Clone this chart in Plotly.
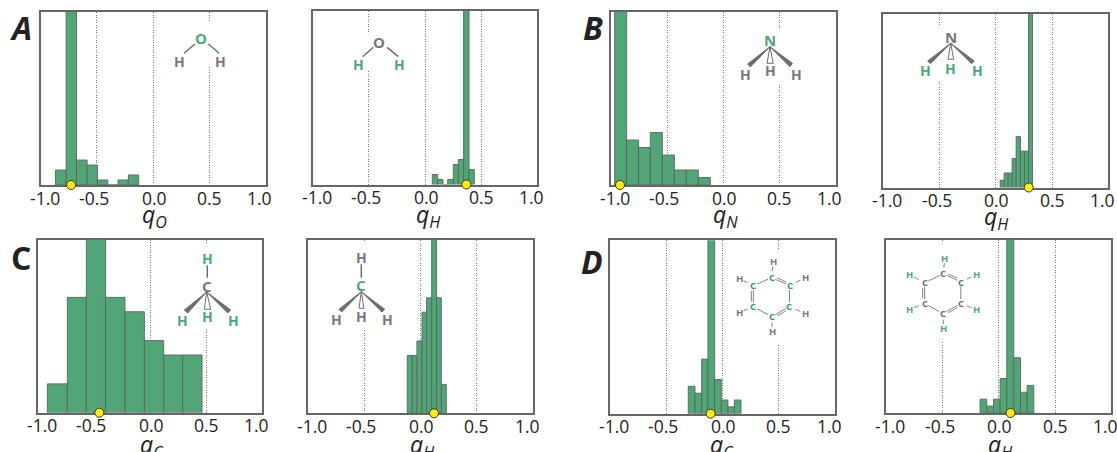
import plotly.graph_objects as go

W, H = 1117, 452
GREEN = "#4aa875"
BAR = "#4aa271"
GRAY = "#77787b"
FONT = "Open Sans"

tick_vals = [-1.0, -0.5, 0.0, 0.5, 1.0]
tick_text = ["-1.0", "-0.5", "0.0", "0.5", "1.0"]
tick_nudge = [4, -3, 1, 0, -6]

# Histogram bin edges and counts
a1_edges = [-0.867, -0.772, -0.680, -0.586, -0.494, -0.402, -0.311, -0.219, -0.127]
a1_counts = [3, 40, 5, 4, 1, 0, 1, 2]
a2_edges = [0.065, 0.113, 0.160, 0.202, 0.252, 0.297, 0.344, 0.392, 0.439]
a2_counts = [2, 1, 0, 1, 4, 5, 40, 3]
b1_edges = [-0.967, -0.861, -0.754, -0.650, -0.543, -0.436, -0.329, -0.223, -0.116]
b1_counts = [30, 6, 5, 7, 4, 2, 2, 1]
b2_edges = [0.039, 0.074, 0.110, 0.145, 0.181, 0.219, 0.255, 0.291, 0.326]
b2_counts = [1, 2, 2, 4, 7, 5, 5, 30]
c1_edges = [-0.914, -0.736, -0.567, -0.395, -0.223, -0.050, 0.122, 0.291, 0.463]
c1_counts = [2, 8, 20, 8, 7, 5, 4, 4]
c2_edges = [-0.119, -0.074, -0.033, 0.012, 0.053, 0.098, 0.142, 0.184, 0.228]
c2_counts = [4, 4, 5, 7, 8, 20, 8, 2]
d1_edges = [-0.306, -0.246, -0.187, -0.131, -0.071, -0.012, 0.047, 0.104, 0.163]
d1_counts = [4, 3, 8, 40, 5, 2, 1, 2]
d2_edges = [-0.166, -0.107, -0.047, 0.012, 0.071, 0.133, 0.193, 0.252, 0.311]
d2_counts = [2, 1, 2, 5, 40, 8, 3, 4]

# Yellow reference points on each axis
a1_ref = -0.728
a2_ref = 0.368
b1_ref = -0.92
b2_ref = 0.293
c1_ref = -0.451
c2_ref = 0.119
d1_ref = -0.107
d2_ref = 0.104

# Panel frames in page pixels: left, right, top, bottom; y-range top; axis label and its spot
panels = [
    (40.5, 265.5, 12, 185, 34.7, "O", a1_edges, a1_counts, a1_ref, 154, 215),
    (312.7, 537.3, 11, 184.5, 34.7, "H", a2_edges, a2_counts, a2_ref, 428, 215),
    (611, 835.7, 12, 185, 23.1, "N", b1_edges, b1_counts, b1_ref, 725, 215),
    (883.3, 1108.3, 14, 187.5, 23.9, "H", b2_edges, b2_counts, b2_ref, 996, 217),
    (37.7, 262.3, 239.7, 412.7, 12, "C", c1_edges, c1_counts, c1_ref, 152, 445),
    (308.3, 533, 240, 413.3, 12, "H", c2_edges, c2_counts, c2_ref, 422, 445),
    (610.3, 835, 240.3, 413.7, 25.4, "C", d1_edges, d1_counts, d1_ref, 722, 445),
    (886.3, 1111.3, 239.7, 413, 25.1, "H", d2_edges, d2_counts, d2_ref, 1000, 445),
]

fig = go.Figure()
layout = {}
annotations = []
for i, (l, r, t, b, ymax, sub, edges, counts, ref, tx, ty) in enumerate(panels, start=1):
    s = "" if i == 1 else str(i)
    fig.add_trace(go.Bar(
        x=edges[:-1], y=counts, offset=0,
        width=[e2 - e1 for e1, e2 in zip(edges[:-1], edges[1:])],
        marker=dict(color=BAR, opacity=0.96, line=dict(color="#5a6b61", width=1)),
        xaxis=f"x{s}", yaxis=f"y{s}", showlegend=False,
    ))
    fig.add_trace(go.Scatter(
        x=[ref], y=[0], mode="markers", cliponaxis=False,
        marker=dict(color="#ffeb14", size=9, line=dict(color="#3a3a20", width=1)),
        xaxis=f"x{s}", yaxis=f"y{s}", showlegend=False,
    ))
    layout[f"xaxis{s}"] = dict(
        domain=[l / W, r / W], range=[-1, 1], anchor=f"y{s}", automargin=False,
        tickmode="array", tickvals=tick_vals, showticklabels=False, ticks="",
        showgrid=True, griddash="1px,1.5px", gridcolor="#777777", gridwidth=1,
        zeroline=False, showline=True, mirror=True, linecolor="#666666", linewidth=1.5,
        layer="below traces",
    )
    layout[f"yaxis{s}"] = dict(
        domain=[1 - b / H, 1 - t / H], range=[0, ymax], anchor=f"x{s}", automargin=False,
        showticklabels=False, ticks="", showgrid=False, zeroline=False,
        showline=True, mirror=True, linecolor="#666666", linewidth=1.5,
    )
    for v, label, nudge in zip(tick_vals, tick_text, tick_nudge):
        annotations.append(dict(
            text=label, xref=f"x{s}", yref="paper", x=v, y=1 - (b + 12.5) / H,
            xshift=nudge, showarrow=False, xanchor="center", yanchor="middle",
            font=dict(family=FONT, size=17.5, color="#222222"),
        ))
    annotations.append(dict(
        text=f"<i>q<sub>{sub}</sub></i>", xref="paper", yref="paper", x=tx / W, y=1 - ty / H,
        showarrow=False, xanchor="center", yanchor="middle",
        font=dict(family=FONT, size=23, color="#222222"),
    ))

shapes = []


def px(x):
    return x / W


def py(y):
    return 1 - y / H


def blank(x0, y0, x1, y1):
    shapes.append(dict(type="rect", xref="paper", yref="paper", layer="above",
                       x0=px(x0), x1=px(x1), y0=py(y0), y1=py(y1),
                       fillcolor="white", line=dict(width=0)))


def atom(text, x, y, color, size=14):
    annotations.append(dict(text=f"<b>{text}</b>", xref="paper", yref="paper",
                            x=px(x), y=py(y), showarrow=False, xanchor="center",
                            yanchor="middle", font=dict(family=FONT, size=size, color=color)))


def bond(x0, y0, x1, y1, width=1.5, color="#6d6e71"):
    shapes.append(dict(type="line", xref="paper", yref="paper", x0=px(x0), y0=py(y0),
                       x1=px(x1), y1=py(y1), line=dict(color=color, width=width)))


def poly(points, fill, line="#6d6e71"):
    path = "M " + " L ".join(f"{px(x):.5f} {py(y):.5f}" for x, y in points) + " Z"
    shapes.append(dict(type="path", xref="paper", yref="paper", path=path,
                       fillcolor=fill, line=dict(color=line, width=1)))


# Water, panel A
blank(170, 22, 230, 67)
atom("O", 200.7, 38.3, GREEN, 15)
atom("H", 179.3, 61.3, GRAY)
atom("H", 220, 61.3, GRAY)
bond(195, 44, 184, 53.3)
bond(208.3, 44, 219.3, 53.3)
blank(350, 33, 410, 70)
atom("O", 379.3, 42.3, GRAY, 15)
atom("H", 358.3, 64, GREEN)
atom("H", 399, 64, GREEN)
bond(373.3, 47.3, 362.7, 56.7)
bond(387, 47.3, 398.3, 56.7)

# Ammonia, panel B
blank(740, 28, 802, 83)
atom("N", 770, 40, GREEN, 15)
atom("H", 745, 74, GRAY)
atom("H", 770.3, 71, GRAY)
atom("H", 796.3, 74, GRAY)
poly([(770, 46.7), (747.7, 64), (750.3, 67)], "#6d6e71")
poly([(770, 46.7), (792.3, 63.3), (790, 66.7)], "#6d6e71")
poly([(770, 46.7), (767, 63.3), (773.3, 63.3)], "white")
blank(920, 27, 982, 80)
atom("N", 950.7, 37.3, GRAY, 15)
atom("H", 925.7, 71, GREEN)
atom("H", 950.7, 68, GREEN)
atom("H", 977, 71, GREEN)
poly([(950.7, 43.3), (927.7, 61), (930.3, 63.7)], "#6d6e71")
poly([(950.7, 43.3), (974.3, 61), (971.7, 63.7)], "#6d6e71")
poly([(950.7, 43.3), (948, 59.3), (953.7, 59.3)], "white")

# Methane, panel C
blank(205, 244, 240, 329)
atom("H", 207.3, 258.3, GREEN)
atom("C", 206.7, 286, GRAY, 15)
atom("H", 182, 320.3, GREEN)
atom("H", 207.3, 316.7, GREEN)
atom("H", 233.3, 320.3, GREEN)
bond(207.3, 265.3, 207.3, 277.7)
poly([(206.7, 292), (184.3, 310), (187.7, 313)], "#6d6e71")
poly([(206.7, 292), (230.7, 310), (227.7, 313)], "#6d6e71")
poly([(206.7, 292), (204.3, 309.3), (210.7, 309.3)], "white")
blank(330, 243, 393, 329)
atom("H", 361.3, 257, GRAY)
atom("C", 360.7, 285.3, GREEN, 15)
atom("H", 336.3, 319.3, GRAY)
atom("H", 361.3, 316, GRAY)
atom("H", 387.7, 319.3, GRAY)
bond(361.3, 264.3, 361.3, 277.7)
poly([(361.3, 291.7), (339, 309.3), (341.7, 312)], "#6d6e71")
poly([(361.3, 291.7), (384.7, 309.3), (382, 312)], "#6d6e71")
poly([(361.3, 291.7), (359, 308.3), (364, 308.3)], "white")


def benzene(ox, oy, carbons, hydrogens, c_color, h_color):
    cs = [(ox + x / 3, oy + y / 3) for x, y in carbons]
    hs = [(ox + x / 3, oy + y / 3) for x, y in hydrogens]
    for k in range(6):
        x0, y0 = cs[k]
        x1, y1 = cs[(k + 1) % 6]
        dx, dy = x1 - x0, y1 - y0
        bond(x0 + dx * 0.2, y0 + dy * 0.2, x1 - dx * 0.2, y1 - dy * 0.2, 1, "#808285")
    ccx = sum(p[0] for p in cs) / 6
    ccy = sum(p[1] for p in cs) / 6
    for k in (0, 2, 4):
        x0, y0 = cs[k]
        x1, y1 = cs[(k + 1) % 6]
        dx, dy = x1 - x0, y1 - y0
        n = (dx * dx + dy * dy) ** 0.5
        nx, ny = -dy / n, dx / n
        mx, my = (x0 + x1) / 2, (y0 + y1) / 2
        if (ccx - mx) * nx + (ccy - my) * ny > 0:
            nx, ny = -nx, -ny
        bond(x0 + dx * 0.25 + nx * 2, y0 + dy * 0.25 + ny * 2,
             x1 - dx * 0.25 + nx * 2, y1 - dy * 0.25 + ny * 2, 1, "#808285")
    for (cx, cy), (hx, hy) in zip(cs, hs):
        dx, dy = hx - cx, hy - cy
        bond(cx + dx * 0.4, cy + dy * 0.4, hx - dx * 0.3, hy - dy * 0.3, 1, "#808285")
        atom("C", cx, cy, c_color, 9.5)
        atom("H", hx, hy, h_color, 9.5)


# Benzene, panel D
blank(770, 249, 815, 344)
benzene(570, 226,
        [(605, 155), (659, 179), (658, 242), (605, 272), (550, 242), (550, 179)],
        [(610, 107), (705, 155), (705, 262), (607, 316), (507, 260), (507, 157)],
        "#2f9e5f", GRAY)
blank(925, 241, 960, 341)
benzene(850, 226,
        [(280, 143), (333, 168), (332, 232), (279, 263), (224, 232), (224, 170)],
        [(284, 98), (378, 146), (378, 251), (281, 307), (179, 250), (179, 146)],
        "#6d6e71", GREEN)

# Panel letters
for letter, x, y, ital in [("A", 21, 27, True), ("B", 593, 27, True), ("C", 21, 257, False), ("D", 592, 261, True)]:
    text = f"<b><i>{letter}</i></b>" if ital else f"<b>{letter}</b>"
    annotations.append(dict(text=text, xref="paper", yref="paper", x=px(x), y=py(y),
                            showarrow=False, xanchor="center", yanchor="middle",
                            font=dict(family=FONT, size=32, color="#222222")))

fig.update_layout(
    width=W, height=H, autosize=False,
    margin=dict(l=0, r=0, t=0, b=0),
    paper_bgcolor="white", plot_bgcolor="white",
    barmode="overlay", shapes=shapes, annotations=annotations, **layout,
)
fig.write_html("out.html", post_script="document.body.style.margin='0';",
               config={"displayModeBar": False})
